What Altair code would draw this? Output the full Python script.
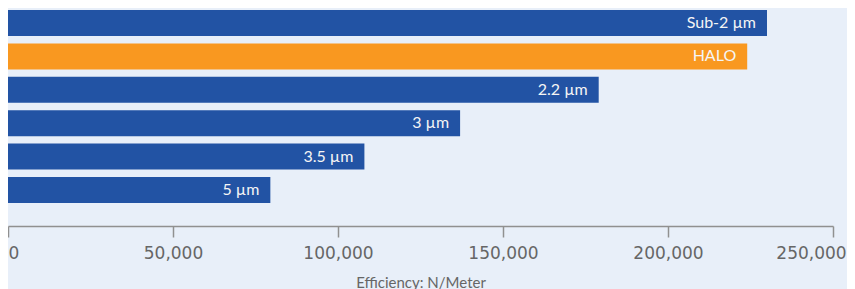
import altair as alt
import pandas as pd

particles = ["Sub-2 µm", "HALO", "2.2 µm", "3 µm", "3.5 µm", "5 µm"]
efficiency = [230000, 224000, 179000, 137000, 108000, 79500]
tick_values = [0, 50000, 100000, 150000, 200000, 250000]

BLUE = "#2253a4"
ORANGE = "#f99820"
BG = "#e8eff9"

df = pd.DataFrame({"Particle": particles, "Efficiency": efficiency})

y = alt.Y("Particle:N", sort=particles, axis=None,
          scale=alt.Scale(paddingInner=0.222, paddingOuter=0.06))
x = alt.X("Efficiency:Q",
          scale=alt.Scale(domain=[0, 250000], nice=False),
          axis=alt.Axis(
              values=tick_values, format=",d", title="Efficiency: N/Meter",
              offset=21, grid=False,
              domainColor="#909090", domainWidth=1.5,
              tickColor="#909090", tickWidth=1.5, tickSize=11,
              labelFont="DejaVu Sans", labelFontSize=17, labelColor="#666666",
              labelPadding=8, labelFlush=False,
              labelAlign=alt.condition("datum.value == 0", alt.value("left"), alt.value("center")),
              labelOffset=alt.condition("datum.value == 250000", alt.value(-22), alt.value(0)),
              titleFont="Lato", titleFontSize=15, titleFontWeight="normal",
              titleColor="#666666", titlePadding=14,
          ))

bars = alt.Chart(df).mark_bar().encode(
    x=x, y=y,
    color=alt.condition(alt.datum.Particle == "HALO", alt.value(ORANGE), alt.value(BLUE)),
)
labels = alt.Chart(df).mark_text(
    align="right", baseline="middle", dx=-11, font="Lato", fontSize=16, color="#f5f5f5"
).encode(x="Efficiency:Q", y=alt.Y("Particle:N", sort=particles), text="Particle:N")

chart = (bars + labels).properties(
    width=825, height=197, background=BG,
    autosize=alt.AutoSizeParams(type="none"),
    padding={"left": 0, "top": 0, "right": 14, "bottom": 84},
).configure_view(strokeWidth=0)

chart.save("out.html", embed_options={"renderer": "svg", "actions": False})
